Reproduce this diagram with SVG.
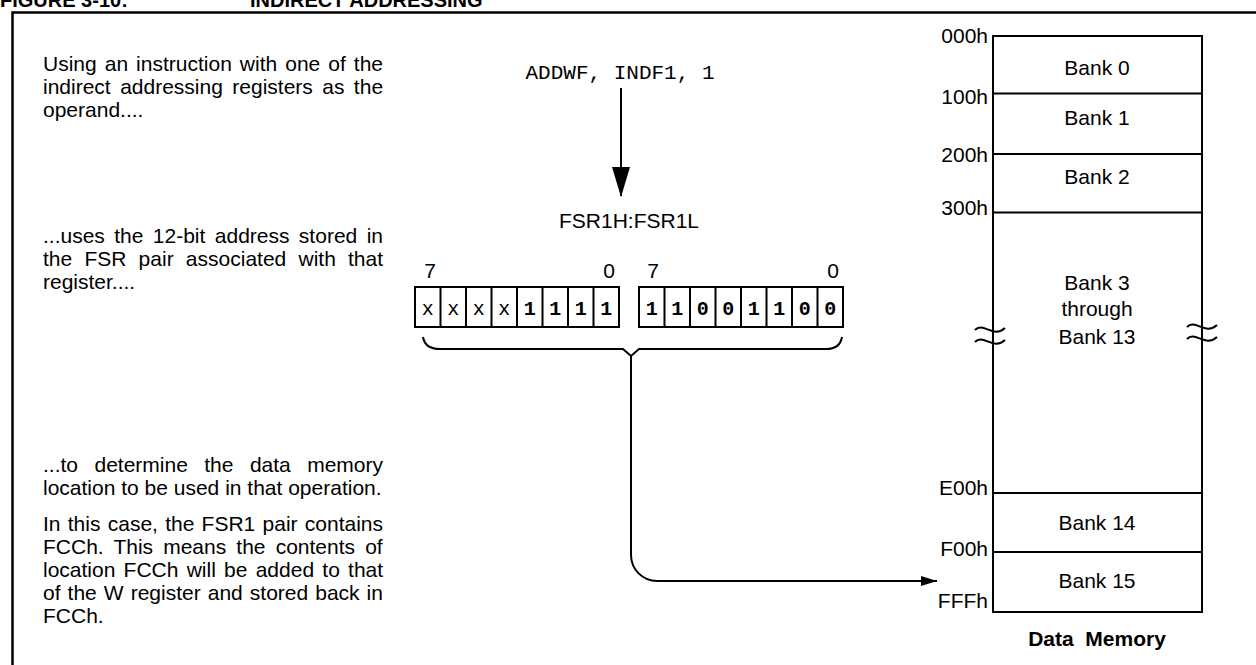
<svg xmlns="http://www.w3.org/2000/svg" width="1256" height="665" viewBox="0 0 1256 665">
<style>
text{font-family:"Liberation Sans",Arial,sans-serif;fill:#000}
.t{font-size:21px}
.mono{font-family:"Liberation Mono","Courier New",monospace}
.lbl{font-size:21px;text-anchor:end}
.bank{font-size:21px;text-anchor:middle}
.cell{font-family:"Liberation Mono","Courier New",monospace;font-size:20px;text-anchor:middle}
.b{font-weight:bold}
.ln{fill:none;stroke:#000;stroke-width:2}
</style>
<defs>
<marker id="ah" viewBox="0 0 16 10" refX="16" refY="5" markerWidth="16" markerHeight="10" markerUnits="userSpaceOnUse" orient="auto">
<path d="M0,0 L16,5 L0,10 Z" fill="#000"/>
</marker>
<marker id="ahBig" viewBox="0 0 18 30" refX="9" refY="29" markerWidth="18" markerHeight="30" markerUnits="userSpaceOnUse" orient="0">
<path d="M0,0 L18,0 L9,30 Z" fill="#000"/>
</marker>
</defs>
<rect width="1256" height="665" fill="#fff"/>

<g id="title">
<text x="0" y="7" class="b" font-size="20">FIGURE 3-10:</text>
<text x="250" y="7" class="b" font-size="20">INDIRECT ADDRESSING</text>
</g>
<path id="frame" d="M12.5,680 V12.5 H1270" fill="none" stroke="#000" stroke-width="2.5"/>

<g id="explanation" class="t">
<text x="43" y="71" word-spacing="2.2">Using an instruction with one of the</text>
<text x="43" y="94" word-spacing="3.6">indirect addressing registers as the</text>
<text x="43" y="117">operand....</text>
<text x="43" y="243" word-spacing="3.56">...uses the 12-bit address stored in</text>
<text x="43" y="266" word-spacing="6.38">the FSR pair associated with that</text>
<text x="43" y="289">register....</text>
<text x="43" y="472" word-spacing="10.6">...to determine the data memory</text>
<text x="43" y="495">location to be used in that operation.</text>
<text x="43" y="531" word-spacing="1.42">In this case, the FSR1 pair contains</text>
<text x="43" y="554" word-spacing="4.28">FCCh. This means the contents of</text>
<text x="43" y="577" word-spacing="2.4">location FCCh will be added to that</text>
<text x="43" y="600" word-spacing="1.21">of the W register and stored back in</text>
<text x="43" y="623">FCCh.</text>
</g>

<g id="instruction">
<text x="620" y="79" class="mono" font-size="21" text-anchor="middle" xml:space="preserve">ADDWF, INDF1, 1</text>
</g>

<g id="fsr-label">
<text x="629" y="228" class="t" text-anchor="middle">FSR1H:FSR1L</text>
</g>

<g id="fsr1h">
<text x="430" y="278" class="t" text-anchor="middle">7</text>
<text x="609" y="278" class="t" text-anchor="middle">0</text>
<rect x="415" y="287" width="204" height="40" class="ln"/>
<path d="M440.5,287V327M466,287V327M491.5,287V327M517,287V327M542.5,287V327M568,287V327M593.5,287V327" class="ln"/>
<text class="cell" y="315"><tspan x="427.75">x</tspan><tspan x="453.25">x</tspan><tspan x="478.75">x</tspan><tspan x="504.25">x</tspan></text>
<text class="cell b" y="315"><tspan x="529.75">1</tspan><tspan x="555.25">1</tspan><tspan x="580.75">1</tspan><tspan x="606.25">1</tspan></text>
</g>

<g id="fsr1l">
<text x="653" y="278" class="t" text-anchor="middle">7</text>
<text x="833" y="278" class="t" text-anchor="middle">0</text>
<rect x="639" y="287" width="204" height="40" class="ln"/>
<path d="M664.5,287V327M690,287V327M715.5,287V327M741,287V327M766.5,287V327M792,287V327M817.5,287V327" class="ln"/>
<text class="cell b" y="315"><tspan x="651.75">1</tspan><tspan x="677.25">1</tspan><tspan x="702.75">0</tspan><tspan x="728.25">0</tspan><tspan x="753.75">1</tspan><tspan x="779.25">1</tspan><tspan x="804.75">0</tspan><tspan x="830.25">0</tspan></text>
</g>

<g id="data-memory">
<rect x="993" y="36" width="209" height="576" class="ln"/>
<path d="M993,93.5H1202M993,154H1202M993,212.5H1202M993,493H1202M993,552H1202" class="ln"/>
<path d="M975,330 C983,321 993,339 1005,328 M975,342 C983,333 993,351 1005,340" class="ln" stroke-width="1.5"/>
<path d="M1187,327 C1195,318 1205,336 1217,325 M1187,339 C1195,330 1205,348 1217,337" class="ln" stroke-width="1.5"/>
<text class="lbl" x="988" y="43">000h</text>
<text class="lbl" x="988" y="104">100h</text>
<text class="lbl" x="988" y="162">200h</text>
<text class="lbl" x="988" y="215">300h</text>
<text class="lbl" x="988" y="495">E00h</text>
<text class="lbl" x="988" y="556">F00h</text>
<text class="lbl" x="988" y="608">FFFh</text>
<text class="bank" x="1097" y="75">Bank 0</text>
<text class="bank" x="1097" y="125">Bank 1</text>
<text class="bank" x="1097" y="184">Bank 2</text>
<text class="bank" x="1097" y="290">Bank 3</text>
<text class="bank" x="1097" y="316">through</text>
<text class="bank" x="1097" y="344">Bank 13</text>
<text class="bank" x="1097" y="530">Bank 14</text>
<text class="bank" x="1097" y="588">Bank 15</text>
<text class="bank b" x="1097" y="646" font-size="23" xml:space="preserve">Data  Memory</text>
</g>

<g id="connectors">
<path d="M621,88 V196" class="ln" marker-end="url(#ahBig)"/>
<path d="M423,337 Q425,349 440,349 H623 L631,356 L639,349 H826 Q840,349 842,337" class="ln" stroke-width="1.6"/>
<path d="M631,356 V555 A26,26 0 0 0 657,581 H937" class="ln" marker-end="url(#ah)"/>
</g>
</svg>
